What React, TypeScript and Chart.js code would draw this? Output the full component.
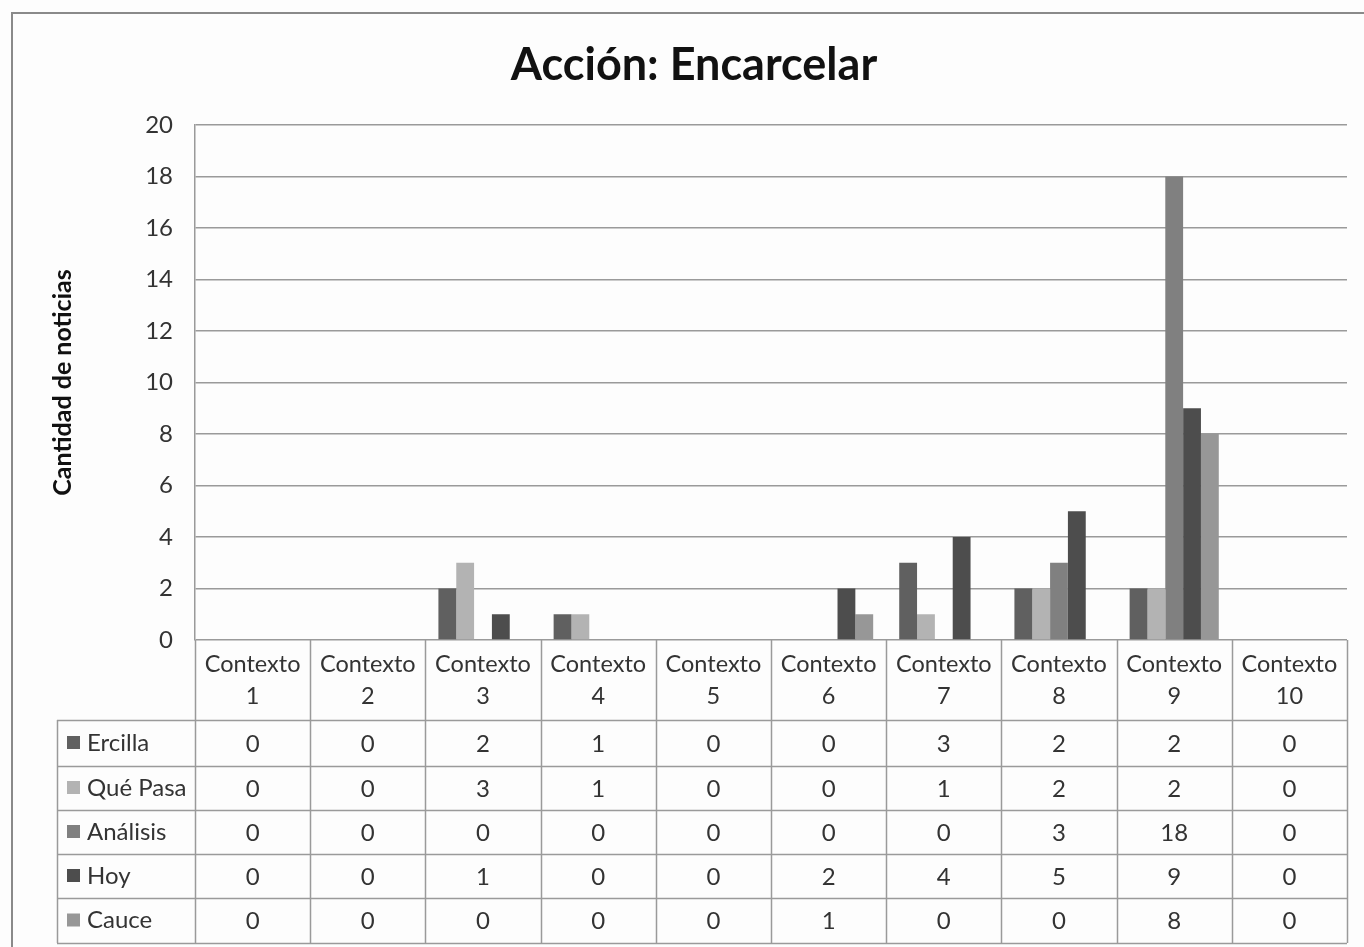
import React, { useEffect, useRef } from "react";
import { Chart, registerables } from "chart.js";

Chart.register(...registerables);

const categories = ["Contexto 1", "Contexto 2", "Contexto 3", "Contexto 4", "Contexto 5", "Contexto 6", "Contexto 7", "Contexto 8", "Contexto 9", "Contexto 10"];
const seriesNames = ["Ercilla", "Qué Pasa", "Análisis", "Hoy", "Cauce"];
const ercilla = [0, 0, 2, 1, 0, 0, 3, 2, 2, 0];
const quePasa = [0, 0, 3, 1, 0, 0, 1, 2, 2, 0];
const analisis = [0, 0, 0, 0, 0, 0, 0, 3, 18, 0];
const hoy = [0, 0, 1, 0, 0, 2, 4, 5, 9, 0];
const cauce = [0, 0, 0, 0, 0, 1, 0, 0, 8, 0];
const seriesColors = ["#606060", "#b3b3b3", "#808080", "#4d4d4d", "#979797"];
const yTicks = [0, 2, 4, 6, 8, 10, 12, 14, 16, 18, 20];

const FONT = "Lato, 'Open Sans', sans-serif";
const W = 1364;
const H = 947;
const ROW_EDGES = [720, 766, 810, 854, 898, 943];
const TABLE_LEFT = 57;
const PAD_LEFT = 24;

export default function App() {
  const ref = useRef<HTMLCanvasElement | null>(null);
  useEffect(() => {
    if (!ref.current) return;
    const allSeries = [ercilla, quePasa, analisis, hoy, cauce];

    const frame = {
      id: "frame",
      beforeDraw(chart: any) {
        const ctx = chart.ctx;
        ctx.save();
        ctx.fillStyle = "#fdfdfd";
        ctx.fillRect(0, 0, W, H);
        ctx.strokeStyle = "#8a8a8a";
        ctx.lineWidth = 2;
        ctx.strokeRect(12, 13, W + 20, H + 20);
        ctx.restore();
      },
    };

    const table = {
      id: "dataTable",
      afterDraw(chart: any) {
        const ctx = chart.ctx;
        const x = chart.scales.x;
        const area = chart.chartArea;
        const half = (x.getPixelForValue(1) - x.getPixelForValue(0)) / 2;
        const top = area.bottom;
        const bottom = ROW_EDGES[ROW_EDGES.length - 1];
        ctx.save();
        ctx.strokeStyle = "#9a9a9a";
        ctx.lineWidth = 1.5;
        ctx.beginPath();
        for (let i = 0; i <= categories.length; i++) {
          const px = Math.round(x.getPixelForValue(i) - half) + 0.5;
          ctx.moveTo(px, top);
          ctx.lineTo(px, bottom);
        }
        ctx.moveTo(TABLE_LEFT + 0.5, ROW_EDGES[0]);
        ctx.lineTo(TABLE_LEFT + 0.5, bottom);
        ROW_EDGES.forEach((y) => {
          ctx.moveTo(TABLE_LEFT, y + 0.5);
          ctx.lineTo(area.right, y + 0.5);
        });
        ctx.stroke();

        ctx.fillStyle = "#333333";
        ctx.textAlign = "center";
        ctx.textBaseline = "middle";
        ctx.font = "23.5px " + FONT;
        categories.forEach((c, i) => {
          const px = x.getPixelForValue(i);
          const parts = c.split(" ");
          ctx.fillText(parts[0], px, 664);
          ctx.fillText(parts[1], px, 696);
        });

        ctx.font = "24px " + FONT;
        allSeries.forEach((vals, r) => {
          const cy = (ROW_EDGES[r] + ROW_EDGES[r + 1]) / 2;
          ctx.fillStyle = seriesColors[r];
          ctx.fillRect(67, cy - 7, 13, 13);
          ctx.fillStyle = "#333333";
          ctx.textAlign = "left";
          ctx.fillText(seriesNames[r], 87, cy);
          ctx.textAlign = "center";
          vals.forEach((v, i) => {
            ctx.fillText(String(v), x.getPixelForValue(i), cy + 1);
          });
        });
        ctx.restore();
      },
    };

    const chart = new Chart(ref.current, {
      type: "bar",
      data: {
        labels: categories,
        datasets: seriesNames.map((name, i) => ({
          label: name,
          data: allSeries[i],
          backgroundColor: seriesColors[i],
          categoryPercentage: 0.774,
          barPercentage: 1,
        })),
      },
      plugins: [frame, table],
      options: {
        responsive: false,
        animation: false,
        layout: { padding: { left: PAD_LEFT, top: 0, right: 0, bottom: H - 640 } },
        plugins: {
          legend: { display: false },
          tooltip: { enabled: false },
          title: {
            display: true,
            text: "Acción: Encarcelar",
            color: "#111111",
            font: { family: FONT, size: 45, weight: "bold", lineHeight: 1.2 },
            padding: { top: 38, bottom: 125 - 38 - 54 },
          },
        },
        scales: {
          x: {
            display: false,
            grid: { display: false },
          },
          y: {
            min: 0,
            max: 20,
            afterFit(scale: any) {
              scale.width = 195 - PAD_LEFT;
            },
            afterBuildTicks(scale: any) {
              scale.ticks = yTicks.map((v) => ({ value: v }));
            },
            ticks: {
              padding: 22,
              color: "#333333",
              font: { family: FONT, size: 24 },
            },
            grid: { color: "#9a9a9a", lineWidth: 1.5, drawTicks: false },
            border: { color: "#9a9a9a", width: 1.5 },
            title: {
              display: true,
              text: "Cantidad de noticias",
              color: "#111111",
              font: { family: FONT, size: 25, weight: "bold", lineHeight: 1.2 },
              padding: { top: 63 - PAD_LEFT - 15, bottom: 0 },
            },
          },
          y2: {
            position: "right",
            display: true,
            afterFit(scale: any) {
              scale.width = W - 1347;
            },
            ticks: { display: false },
            grid: { display: false, drawTicks: false },
            border: { display: false },
          },
        },
      },
    });
    return () => chart.destroy();
  }, []);

  return (
    <div style={{ position: "absolute", left: 0, top: 0, width: W, height: H }}>
      <canvas ref={ref} width={W} height={H} style={{ display: "block" }} />
    </div>
  );
}
